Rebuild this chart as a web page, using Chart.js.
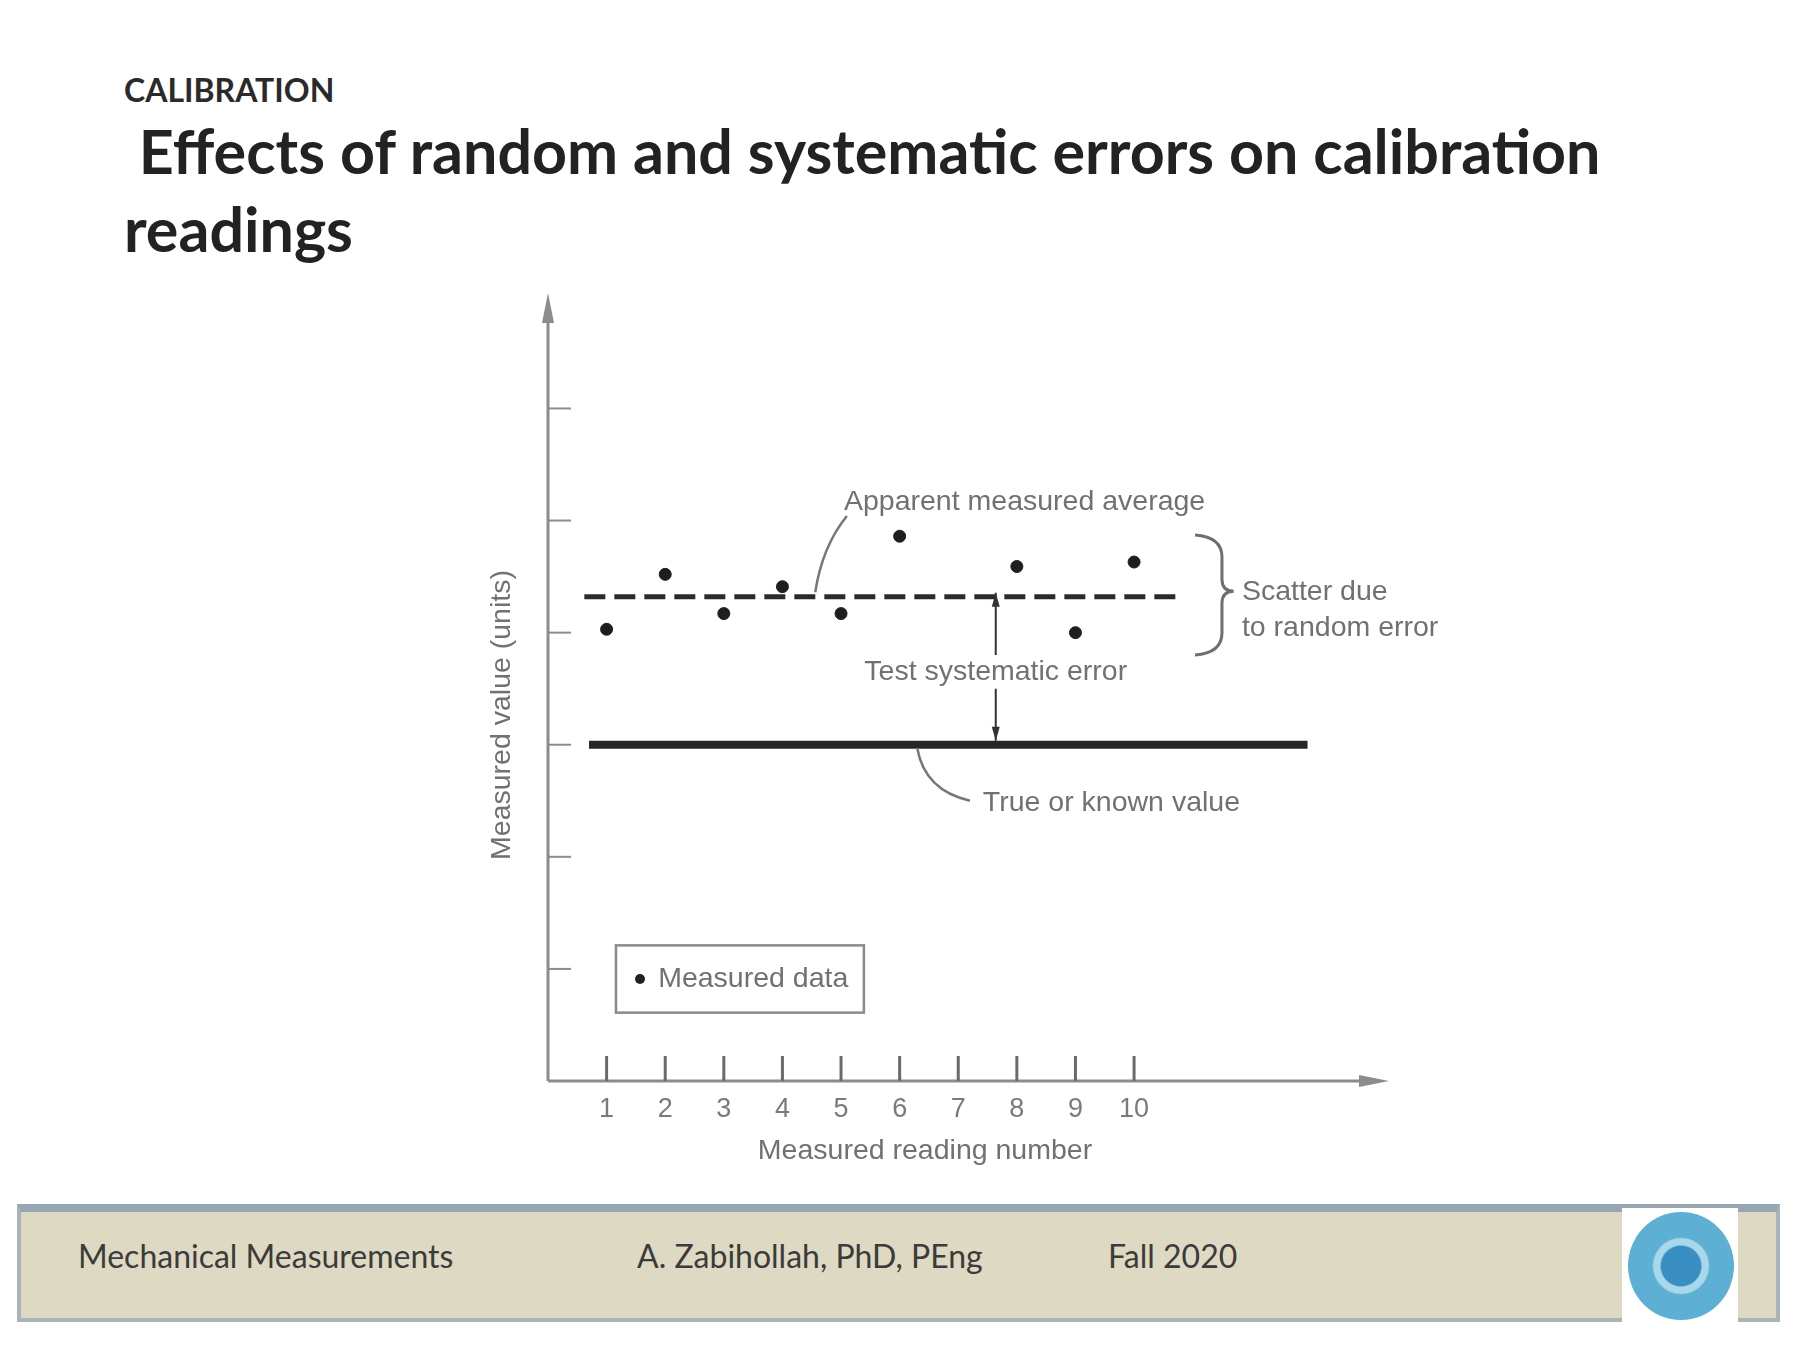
<!DOCTYPE html>
<html>
<head>
<meta charset="utf-8">
<script src="https://cdn.jsdelivr.net/npm/chart.js@4.4.1/dist/chart.umd.min.js"></script>
<style>
  html, body { margin: 0; padding: 0; background: #fff; }
  body { width: 1800px; height: 1350px; position: relative; overflow: hidden; font-family: Lato, "Open Sans", sans-serif; }
  #kicker { position: absolute; left: 124px; top: 70px; font-size: 32px; font-weight: 700; color: #2a2a2a; }
  #title { position: absolute; left: 124px; top: 112px; font-size: 61px; font-weight: 700; color: #222; line-height: 78px; }
  #footer { position: absolute; left: 17px; top: 1204px; width: 1763px; height: 118px; background: #ded9c2;
            border-top: 8px solid #97a6b1; border-left: 4px solid #a9b3ba; border-right: 4px solid #a9b3ba; border-bottom: 4px solid #aab4bb; box-sizing: border-box; }
  .foot { position: absolute; top: 1236px; font-size: 32px; color: #3b3b3b; }
  #logo { position: absolute; left: 1622px; top: 1208px; width: 116px; height: 116px; background: #fff; }
  #logo div { position: absolute; left: 6px; top: 4px; width: 106px; height: 108px; border-radius: 50%;
              background: radial-gradient(circle, #3a8fc2 0 26%, #a9d8ea 28% 36%, #5eafd4 38% 72%, #8ecde3 75% 100%); }
  #wrap { position: absolute; left: 0; top: 0; width: 1800px; height: 1350px; }
</style>
</head>
<body>
<div id="footer"></div>
<div class="foot" style="left:78px">Mechanical Measurements</div>
<div class="foot" style="left:637px">A. Zabihollah, PhD, PEng</div>
<div class="foot" style="left:1108px">Fall 2020</div>
<div id="logo"><div></div></div>
<div id="kicker">CALIBRATION</div>
<div id="title">&nbsp;Effects of random and systematic errors on calibration<br>readings</div>
<div id="wrap"><canvas id="grafico"></canvas></div>
<script>
// dados
const leituras = [1, 2, 3, 4, 5, 6, 8, 9, 10];
const valoresMedidos = [4.03, 4.52, 4.17, 4.41, 4.17, 4.86, 4.59, 4.00, 4.63];
const valorVerdadeiro = 3.0;
const mediaAparente = 4.32;
const rotulosX = ["1", "2", "3", "4", "5", "6", "7", "8", "9", "10"];
const ticksY = [1, 2, 3, 4, 5, 6];

// extensoes das linhas horizontais (unidades do eixo x)
const linhaVerdadeira = [0.7, 12.96];
const linhaMedia = [0.62, 10.8];
const xErroSistematico = 7.64;

const CINZA = "#717171";
const FONTE = '"Liberation Sans Narrow", "Liberation Sans", sans-serif';

function seta(ctx, x, y, dx, dy, tam, larg) {
  // ponta de seta em (x,y) apontando na direcao (dx,dy)
  const n = Math.hypot(dx, dy); dx /= n; dy /= n;
  ctx.beginPath();
  ctx.moveTo(x, y);
  ctx.lineTo(x - dx * tam - dy * larg, y - dy * tam + dx * larg);
  ctx.lineTo(x - dx * tam + dy * larg, y - dy * tam - dx * larg);
  ctx.closePath();
  ctx.fill();
}

const anotacoes = {
  id: "anotacoes",
  afterDatasetsDraw(chart) {
    const ctx = chart.ctx;
    const sx = chart.scales.x, sy = chart.scales.y;
    const px = v => sx.getPixelForValue(v);
    const py = v => sy.getPixelForValue(v);
    const x0 = px(0), y0 = py(0);
    ctx.save();

    // eixos
    ctx.strokeStyle = "#8c8c8c"; ctx.fillStyle = "#8c8c8c"; ctx.lineWidth = 3;
    ctx.beginPath();
    ctx.moveTo(x0, y0); ctx.lineTo(x0, sy.top + 20);
    ctx.moveTo(x0, y0); ctx.lineTo(sx.right - 20, y0);
    ctx.stroke();
    seta(ctx, x0, sy.top, 0, -1, 30, 6);
    seta(ctx, sx.right, y0, 1, 0, 30, 6);

    // marcas do eixo y
    ctx.lineWidth = 2;
    ticksY.forEach(v => {
      ctx.beginPath(); ctx.moveTo(x0, py(v)); ctx.lineTo(x0 + 23, py(v)); ctx.stroke();
    });
    // marcas do eixo x
    ctx.strokeStyle = "#6a6a6a"; ctx.lineWidth = 3;
    rotulosX.forEach((r, i) => {
      const x = px(i + 1);
      ctx.beginPath(); ctx.moveTo(x, y0); ctx.lineTo(x, y0 - 25); ctx.stroke();
    });

    // seta do erro sistematico
    const xe = px(xErroSistematico);
    ctx.strokeStyle = "#333"; ctx.fillStyle = "#333"; ctx.lineWidth = 2;
    ctx.beginPath();
    ctx.moveTo(xe, py(mediaAparente) - 4); ctx.lineTo(xe, py(3.8));
    ctx.moveTo(xe, py(3.5)); ctx.lineTo(xe, py(valorVerdadeiro) - 4);
    ctx.stroke();
    seta(ctx, xe, py(mediaAparente) - 4, 0, -1, 14, 4);
    seta(ctx, xe, py(valorVerdadeiro) - 4, 0, 1, 14, 4);

    // linhas de chamada
    ctx.strokeStyle = "#777"; ctx.lineWidth = 2.5;
    ctx.beginPath();
    ctx.moveTo(px(5.1), py(5.04));
    ctx.quadraticCurveTo(px(4.68), py(4.77), px(4.56), py(4.36));
    ctx.stroke();
    ctx.beginPath();
    ctx.moveTo(px(6.3), py(2.97));
    ctx.quadraticCurveTo(px(6.43), py(2.59), px(7.2), py(2.5));
    ctx.stroke();

    // chave
    ctx.strokeStyle = "#6f6f6f"; ctx.lineWidth = 3;
    const bx = px(11.04), bm = px(11.5), bt = px(11.7);
    const yt = py(4.87), yc = py(4.37), yb = py(3.8);
    ctx.beginPath();
    ctx.moveTo(bx, yt);
    ctx.quadraticCurveTo(bm, yt + 2, bm, yt + 22);
    ctx.lineTo(bm, yc - 12);
    ctx.quadraticCurveTo(bm, yc, bt, yc);
    ctx.quadraticCurveTo(bm, yc, bm, yc + 12);
    ctx.lineTo(bm, yb - 22);
    ctx.quadraticCurveTo(bm, yb - 2, bx, yb);
    ctx.stroke();

    // textos
    ctx.fillStyle = CINZA;
    ctx.font = "28.5px " + FONTE;
    ctx.textBaseline = "middle";
    ctx.textAlign = "left";
    ctx.fillText("Apparent measured average", px(5.05), py(5.16));
    ctx.fillText("Scatter due", px(11.84), py(4.36));
    ctx.fillText("to random error", px(11.84), py(4.04));
    ctx.fillText("True or known value", px(7.42), py(2.48));
    ctx.textAlign = "center";
    ctx.fillText("Test systematic error", xe, py(3.65));
    ctx.fillText("Measured reading number", 925, y0 + 70);
    ctx.save();
    ctx.translate(502, 715); ctx.rotate(-Math.PI / 2);
    ctx.fillText("Measured value (units)", 0, 0);
    ctx.restore();

    // legenda
    const lx1 = px(1.16), lx2 = px(5.39), ly1 = py(1.21), ly2 = py(0.61);
    ctx.strokeStyle = "#8a8a8a"; ctx.lineWidth = 2.5;
    ctx.strokeRect(lx1, ly1, lx2 - lx1, ly2 - ly1);
    ctx.fillStyle = "#222";
    ctx.beginPath(); ctx.arc(px(1.57), py(0.91), 5, 0, Math.PI * 2); ctx.fill();
    ctx.fillStyle = CINZA; ctx.textAlign = "left";
    ctx.fillText("Measured data", px(1.88), py(0.91));
    ctx.restore();
  }
};

const ctx = document.getElementById("grafico").getContext("2d");
new Chart(ctx, {
  type: "scatter",
  data: {
    datasets: [
      {
        label: "Measured data",
        data: leituras.map((x, i) => ({ x: x, y: valoresMedidos[i] })),
        backgroundColor: "#1e1e1e",
        borderColor: "#1e1e1e",
        pointRadius: 6
      },
      {
        label: "True or known value",
        type: "line",
        data: linhaVerdadeira.map(x => ({ x: x, y: valorVerdadeiro })),
        borderColor: "#262626",
        borderWidth: 8,
        pointRadius: 0
      },
      {
        label: "Apparent measured average",
        type: "line",
        data: linhaMedia.map(x => ({ x: x, y: mediaAparente })),
        borderColor: "#2a2a2a",
        borderWidth: 5,
        borderDash: [21, 9],
        pointRadius: 0
      }
    ]
  },
  options: {
    responsive: true,
    maintainAspectRatio: false,
    animation: false,
    layout: { padding: { left: 548, right: 411, top: 293, bottom: 169 } },
    plugins: { legend: { display: false }, tooltip: { enabled: false } },
    scales: {
      x: {
        type: "linear",
        min: 0,
        max: 14.35,
        grid: { display: false, drawTicks: false },
        border: { display: false },
        afterFit: s => { s.height = 100; },
        ticks: {
          stepSize: 1,
          autoSkip: false,
          padding: 12,
          color: "#7a7a7a",
          font: { family: FONTE, size: 27 },
          callback: v => (v >= 1 && v <= 10 && Number.isInteger(v)) ? rotulosX[v - 1] : ""
        }
      },
      y: {
        display: false,
        min: 0,
        max: 7.03
      }
    }
  },
  plugins: [anotacoes]
});
</script>
</body>
</html>
